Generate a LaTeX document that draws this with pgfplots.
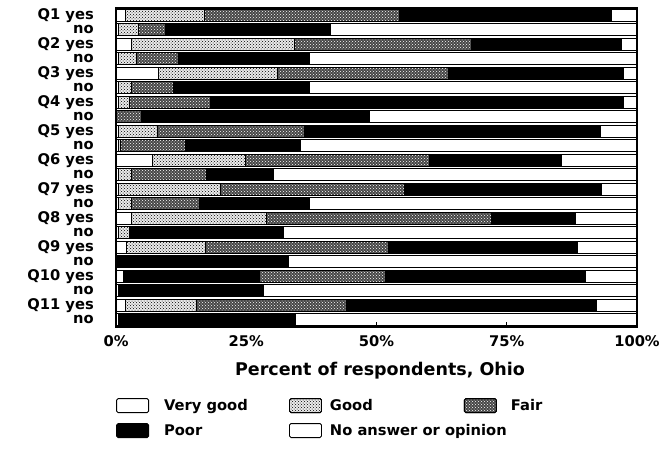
\documentclass[border=0pt]{standalone}
\usepackage{fontspec}
\setmainfont{DejaVu Sans}
\usepackage{pgfplots}
\pgfplotsset{compat=1.18}
\usepackage{pgfplotstable}
\usetikzlibrary{patterns}

\pgfplotstableread{
idx vg good gdark fair poor na
0  1.8 15.1 0    37.4 40.8 4.9
1  0.4 3.9  0    5.2  31.7 58.8
2  2.9 31.3 0    34.1 28.8 2.9
3  0.4 3.6  0    7.9  25.3 62.8
4  8.1 22.8 0    32.9 33.5 2.7
5  0.4 2.5  0    8.2  26.1 62.8
6  0.4 2.2  0    15.5 79.2 2.7
7  0   0    0    4.9  43.7 51.4
8  0.4 7.6  0    28.2 56.8 7.0
9  0.4 0.4  0    12.5 22.1 64.6
10 7.0 17.9 0    35.2 25.3 14.6
11 0.4 2.5  0    14.4 13.0 69.7
12 0.4 19.6 0    35.3 37.9 6.8
13 0.4 2.5  0    13.1 21.2 62.8
14 2.9 25.9 0    43.2 16.2 11.8
15 0.4 2.2  0    0    29.5 67.9
16 2.0 15.1 0    35.2 36.2 11.5
17 0   0    0    0    33.1 66.9
18 1.5 0    26.1 24.1 38.4 9.9
19 0.5 0    0    0    27.7 71.8
20 1.8 13.7 0    28.8 48.0 7.7
21 0.5 0    0    0    33.9 65.6
}\data

\begin{document}
\begin{tikzpicture}
\begin{axis}[name=ax, scale only axis, width=521pt, height=319pt,
  xbar stacked, bar width=12pt, y dir=reverse, axis on top,
  xmin=0, xmax=100, ymin=-0.5, ymax=21.5,
  axis line style={line width=1.1pt},
  xtick={0,25,50,75,100}, xticklabels={0\%,25\%,50\%,75\%,100\%},
  tick align=inside, xtick pos=left, major tick length=5pt,
  xtick style={line width=0.8pt, black},
  ytick={0,...,21},
  yticklabels={Q1 yes,no,Q2 yes,no,Q3 yes,no,Q4 yes,no,Q5 yes,no,Q6 yes,no,Q7 yes,no,Q8 yes,no,Q9 yes,no,Q10 yes,no,Q11 yes,no},
  ytick style={draw=none},
  yticklabel style={font=\fontsize{14.7}{14}\selectfont\bfseries, anchor=east, inner sep=0pt, xshift=-22pt},
  xticklabel style={font=\fontsize{14.7}{14}\selectfont\bfseries, anchor=north, inner sep=0pt, yshift=-8pt},
  xlabel={Percent of respondents, Ohio},
  xlabel style={font=\fontsize{17.5}{18}\selectfont\bfseries, at={(axis description cs:0.5,0)}, anchor=north, inner sep=0pt, yshift=-35pt, xshift=3.5pt},
  legend columns=3,
  legend image code/.code={\draw[#1, line width=0.9pt, rounded corners=1.5pt] (0pt,-7pt) rectangle (32pt,7pt);},
  legend style={draw=none, fill=none, inner sep=0pt, at={(axis description cs:0,0)}, anchor=north west, yshift=-71pt,
    font=\fontsize{14.7}{14}\selectfont\bfseries, row sep=10pt,
    nodes={inner sep=0pt, anchor=west},
    /tikz/every odd column/.append style={column sep=8pt}},
  every axis plot/.append style={draw=black, line width=0.8pt},
]
\addplot[fill=white] table[x=vg, y=idx] {\data};
\addlegendentry{\makebox[132pt][l]{\hspace{7pt}Very good}}
\addplot[fill=black!8, postaction={pattern=crosshatch dots}] table[x=good, y=idx] {\data};
\addlegendentry{\makebox[134pt][l]{Good}}
\addplot[fill=black, forget plot] table[x=gdark, y=idx] {\data};
\addplot[fill=black!72, postaction={pattern=crosshatch dots, pattern color=white}] table[x=fair, y=idx] {\data};
\addlegendentry{\hspace{6pt}Fair}
\addplot[fill=black] table[x=poor, y=idx] {\data};
\addlegendentry{\makebox[132pt][l]{\hspace{7pt}Poor}}
\addplot[fill=white] table[x=na, y=idx] {\data};
\addlegendentry{\makebox[134pt][l]{No answer or opinion}}
\end{axis}
\pgfresetboundingbox
\path[use as bounding box] ([shift={(-116pt,-121pt)}]ax.south west) rectangle ([shift={(35pt,8pt)}]ax.north east);
\end{tikzpicture}
\end{document}
